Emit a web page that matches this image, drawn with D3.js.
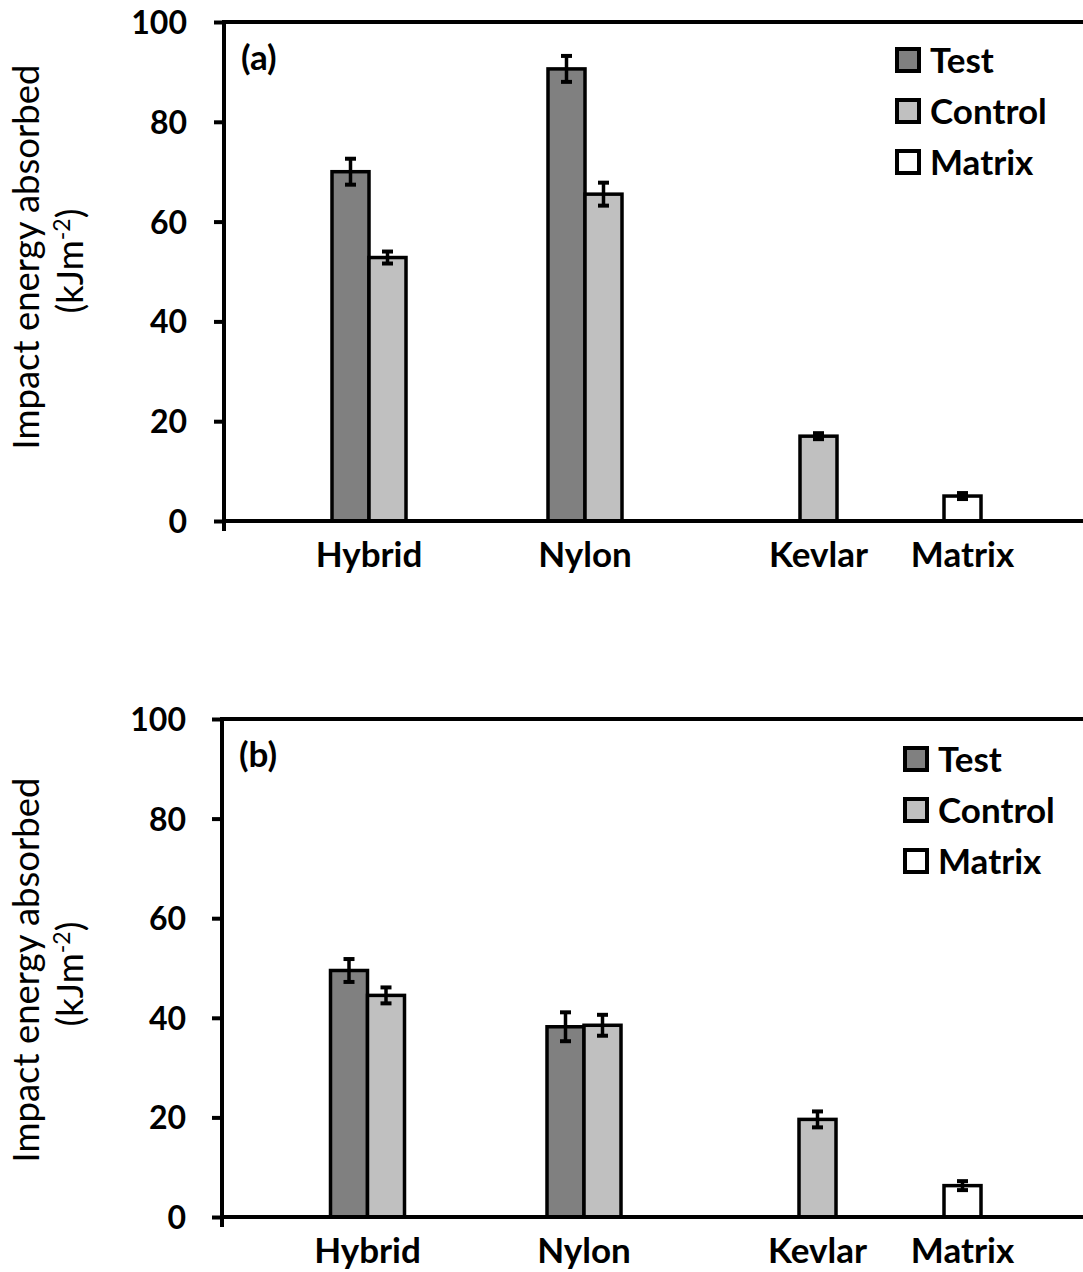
<!DOCTYPE html>
<html>
<head>
<meta charset="utf-8">
<script src="https://cdn.jsdelivr.net/npm/d3@7"></script>
<style>
  body { margin: 0; background: #fff; }
  text { font-family: Lato, "Open Sans", sans-serif; fill: #000; }
</style>
</head>
<body>
<svg id="chart" width="1083" height="1272"></svg>
<script>
// categories and series
const categories = ["Hybrid", "Nylon", "Kevlar", "Matrix"];
const seriesNames = ["Test", "Control", "Matrix"];
const yTicks = [0, 20, 40, 60, 80, 100];

// panel (a)
const aTest = [70, 90.6, null, null];
const aTestErr = [2.6, 2.6, null, null];
const aControl = [52.8, 65.5, 17, null];
const aControlErr = [1.2, 2.3, 0.6, null];
const aMatrix = [null, null, null, 5];
const aMatrixErr = [null, null, null, 0.6];

// panel (b)
const bTest = [49.5, 38.2, null, null];
const bTestErr = [2.3, 2.9, null, null];
const bControl = [44.5, 38.5, 19.6, null];
const bControlErr = [1.6, 2.1, 1.6, null];
const bMatrix = [null, null, null, 6.3];
const bMatrixErr = [null, null, null, 0.9];

const fills = { Test: "#808080", Control: "#c0c0c0", Matrix: "#ffffff" };
const barW = 37;

const svg = d3.select("#chart");

function drawPanel(opts) {
  const g = svg.append("g");
  const y = d3.scaleLinear().domain([0, 100]).range([opts.y0, opts.y100]);
  // categories are not evenly spaced in the original, so map them explicitly
  const x = d3.scaleOrdinal().domain(categories).range(opts.centers);
  const xr = 1090;

  // build one row per drawn bar
  const bars = [];
  categories.forEach((c, i) => {
    const present = opts.series.filter(s => s.values[i] != null);
    present.forEach((s, j) => {
      const left = x(c) - present.length * barW / 2 + j * barW;
      bars.push({ cat: c, name: s.name, v: s.values[i], e: s.errs[i], left: left });
    });
  });

  g.selectAll("rect.bar")
    .data(bars)
    .join("rect")
    .attr("class", "bar")
    .attr("x", d => d.left)
    .attr("y", d => y(d.v))
    .attr("width", barW)
    .attr("height", d => y(0) - y(d.v))
    .attr("fill", d => fills[d.name])
    .attr("stroke", "#000")
    .attr("stroke-width", 3.5);

  // error bars
  const eb = g.selectAll("g.err").data(bars).join("g").attr("class", "err");
  eb.append("line")
    .attr("x1", d => d.left + barW / 2).attr("x2", d => d.left + barW / 2)
    .attr("y1", d => y(d.v + d.e)).attr("y2", d => y(d.v - d.e))
    .attr("stroke", "#000").attr("stroke-width", 3.5);
  [1, -1].forEach(sign => {
    eb.append("line")
      .attr("x1", d => d.left + barW / 2 - 5.5).attr("x2", d => d.left + barW / 2 + 5.5)
      .attr("y1", d => y(d.v + sign * d.e)).attr("y2", d => y(d.v + sign * d.e))
      .attr("stroke", "#000").attr("stroke-width", 4);
  });

  // axes
  const yAxis = d3.axisLeft(y).tickValues(yTicks).tickSize(10).tickPadding(0).tickFormat(d3.format("d"));
  const ag = g.append("g").attr("transform", "translate(" + opts.axisX + ",0)").call(yAxis);
  ag.select(".domain").remove();
  ag.selectAll(".tick line").attr("stroke", "#000").attr("stroke-width", 4);
  ag.selectAll(".tick text")
    .attr("x", opts.tickTextX - opts.axisX)
    .attr("dy", "0.36em")
    .style("font-size", "32px").style("font-weight", "700");

  g.append("line").attr("x1", opts.axisX).attr("x2", opts.axisX)
    .attr("y1", y(100) - 2).attr("y2", y(0) + 10)
    .attr("stroke", "#000").attr("stroke-width", 4);
  g.append("line").attr("x1", opts.axisX).attr("x2", xr)
    .attr("y1", y(0)).attr("y2", y(0))
    .attr("stroke", "#000").attr("stroke-width", 4);
  g.append("line").attr("x1", opts.axisX).attr("x2", xr)
    .attr("y1", y(100)).attr("y2", y(100))
    .attr("stroke", "#000").attr("stroke-width", 4);

  // category labels
  g.selectAll("text.cat")
    .data(categories)
    .join("text")
    .attr("class", "cat")
    .attr("x", d => x(d))
    .attr("y", y(0) + 46)
    .attr("text-anchor", "middle")
    .style("font-size", "35px").style("font-weight", "700")
    .text(d => d);

  // panel letter
  g.append("text")
    .attr("x", opts.axisX + 17).attr("y", y(100) + 48)
    .style("font-size", "35px").style("font-weight", "700")
    .text(opts.letter);

  // y title
  g.append("text")
    .attr("transform", "translate(39," + opts.titleY + ") rotate(-90)")
    .attr("text-anchor", "middle")
    .style("font-size", "36.5px")
    .text("Impact energy absorbed");
  const t2 = g.append("text")
    .attr("transform", "translate(83," + (opts.titleY + 4) + ") rotate(-90)")
    .attr("text-anchor", "middle")
    .style("font-size", "36.5px");
  t2.append("tspan").text("(kJm");
  t2.append("tspan").attr("dy", -13).style("font-size", "23px").text("-2");
  t2.append("tspan").attr("dy", 13).text(")");

  // legend
  const lg = g.selectAll("g.leg")
    .data(seriesNames)
    .join("g")
    .attr("class", "leg")
    .attr("transform", (d, i) => "translate(" + opts.legX + "," + (opts.legY + i * 51) + ")");
  lg.append("rect")
    .attr("x", 0).attr("y", -11).attr("width", 22).attr("height", 22)
    .attr("fill", d => fills[d]).attr("stroke", "#000").attr("stroke-width", 4);
  lg.append("text")
    .attr("x", 33).attr("y", 0).attr("dy", "0.36em")
    .style("font-size", "35px").style("font-weight", "700")
    .text(d => d);
}

drawPanel({
  y0: 521, y100: 22, axisX: 224, tickTextX: 187,
  centers: [369, 585, 818.5, 962.5],
  letter: "(a)", legX: 897, legY: 60, titleY: 257,
  series: [
    { name: "Test", values: aTest, errs: aTestErr },
    { name: "Control", values: aControl, errs: aControlErr },
    { name: "Matrix", values: aMatrix, errs: aMatrixErr }
  ]
});

drawPanel({
  y0: 1217, y100: 719, axisX: 222, tickTextX: 186,
  centers: [367.5, 584, 817.5, 962.5],
  letter: "(b)", legX: 905, legY: 759, titleY: 970,
  series: [
    { name: "Test", values: bTest, errs: bTestErr },
    { name: "Control", values: bControl, errs: bControlErr },
    { name: "Matrix", values: bMatrix, errs: bMatrixErr }
  ]
});
</script>
</body>
</html>
